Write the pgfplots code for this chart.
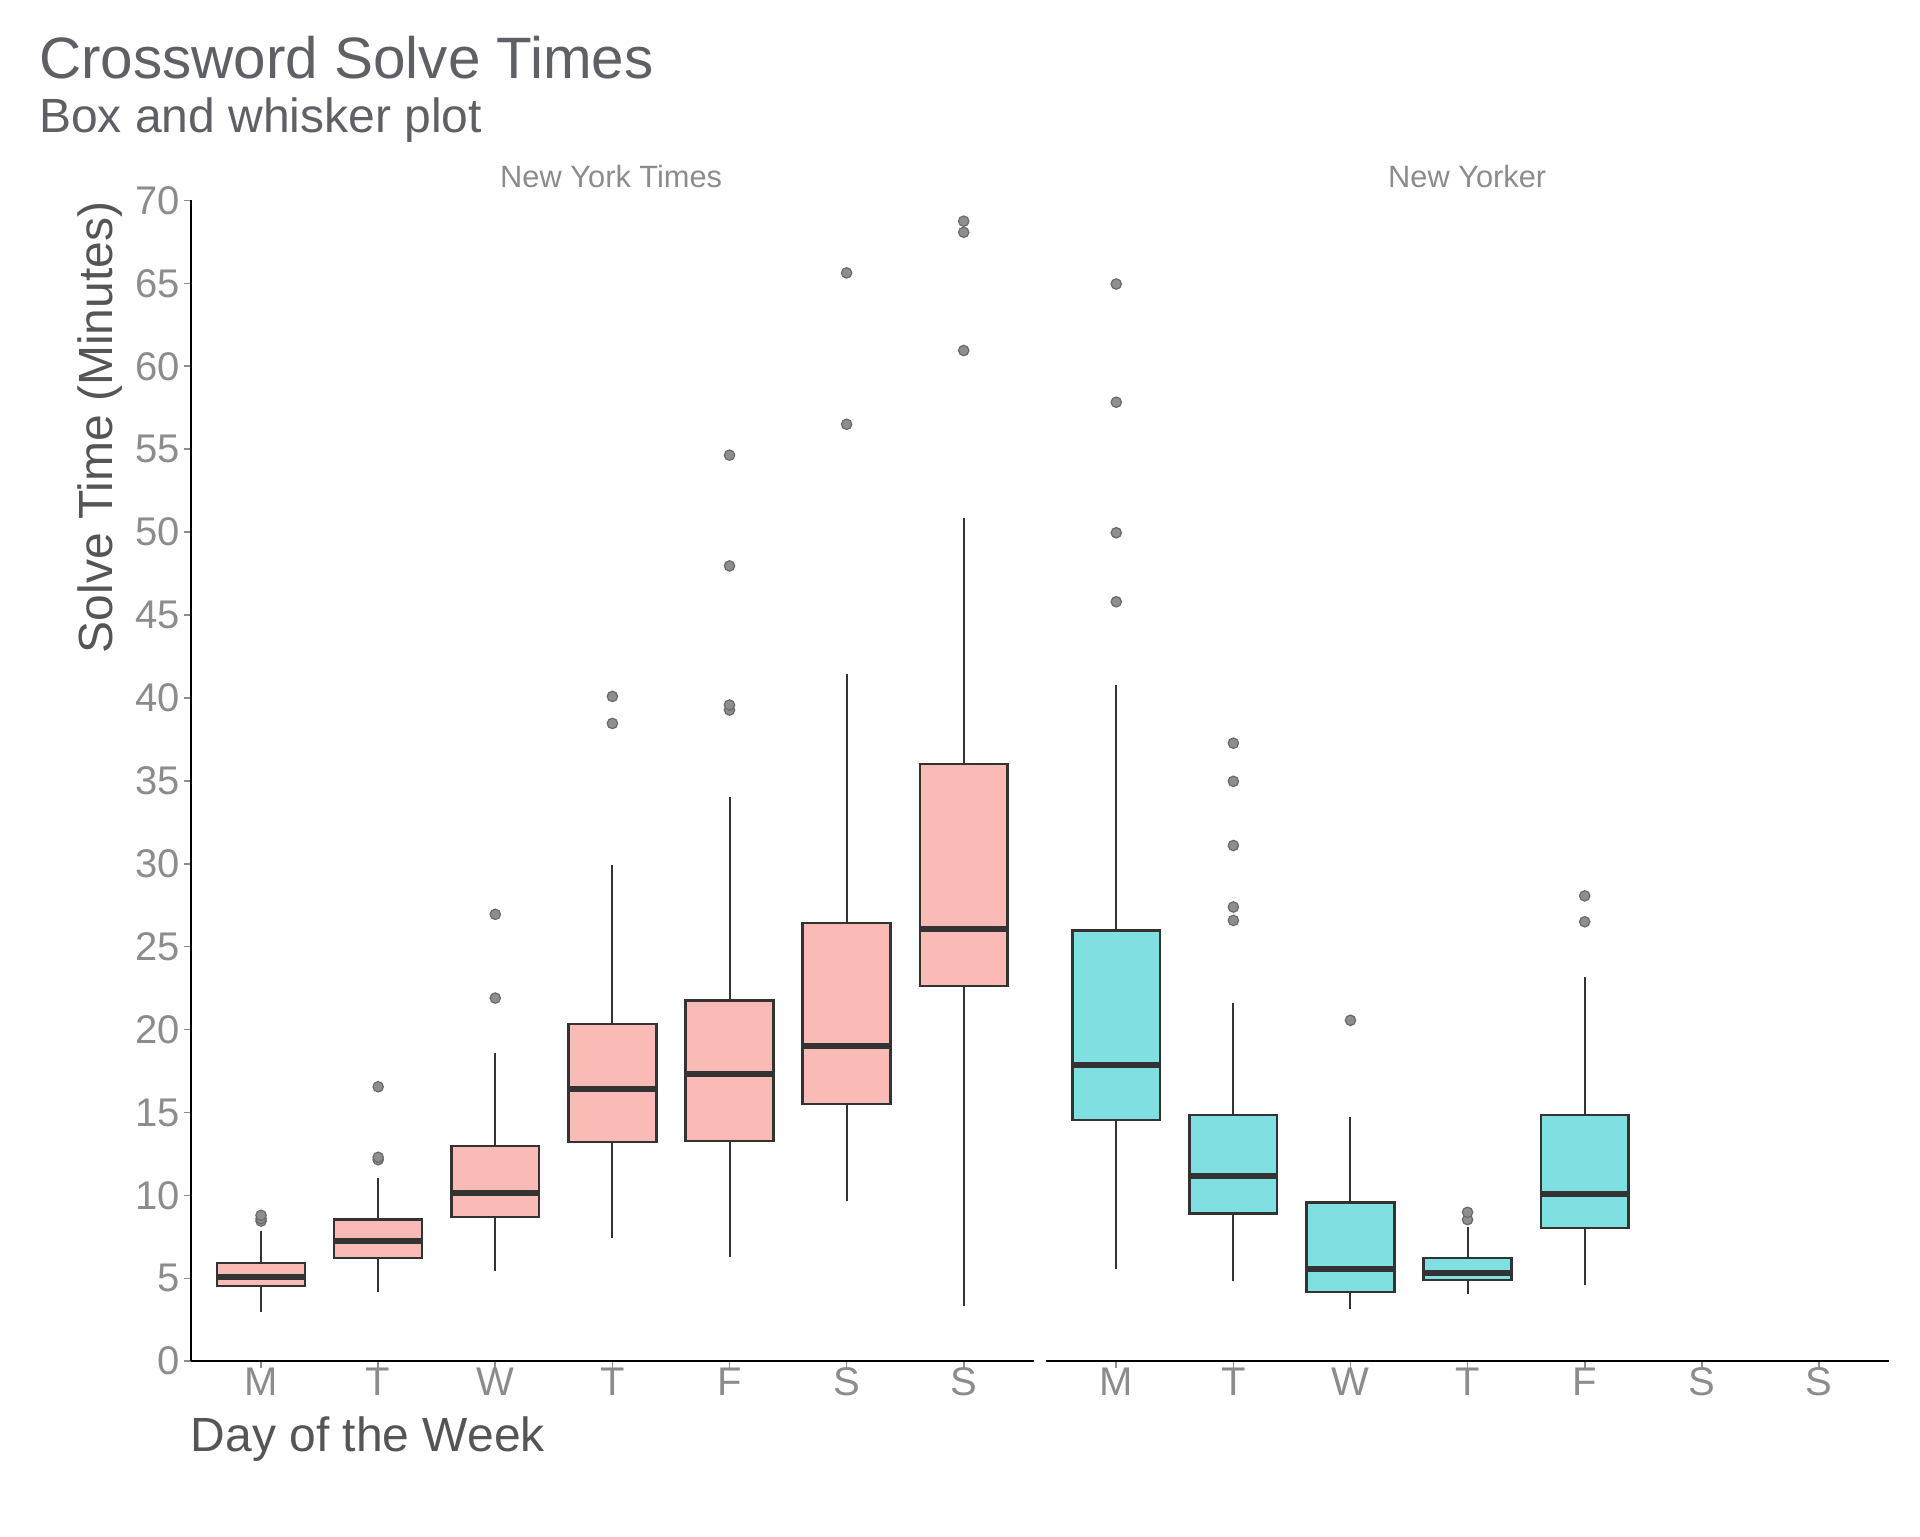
\documentclass[border=0pt]{standalone}
\usepackage{fontspec}
\setmainfont{Liberation Sans}
\usepackage{pgfplots}
\usepgfplotslibrary{statistics}
\pgfplotsset{compat=1.18}
\definecolor{titlegray}{HTML}{5F5F66}
\definecolor{labgray}{HTML}{555555}
\definecolor{tickgray}{HTML}{8C8C8C}
\definecolor{nytfill}{HTML}{FABBB6}
\definecolor{nyfill}{HTML}{80DFE1}
\definecolor{boxline}{HTML}{333333}
\definecolor{outfill}{HTML}{8E8E8E}
\definecolor{outedge}{HTML}{6A6A6A}

\pgfplotsset{
  panel/.style={
    scale only axis, width=210.8pt, height=290.2pt,
    anchor=south west,
    xmin=0.4, xmax=7.6, ymin=0, ymax=70,
    xtick={1,2,3,4,5,6,7},
    xticklabels={M,T,W,T,F,S,S},
    tick align=outside, major tick length=1.6pt,
    tick style={tickgray, line width=0.4pt},
    axis x line*=bottom,
    axis line style={black, line width=0.45pt, -},
    xtick pos=bottom,
    ticklabel style={font=\fontsize{10}{12}\selectfont, text=tickgray},
    xticklabel style={anchor=base, yshift=-7pt},
    /pgf/number format/assume math mode=true,
    boxplot/draw direction=y,
    boxplot/box extend=0.75,
    boxplot/whisker extend=0,
    boxplot/every median/.style={line width=1.5pt},
    boxplot/every whisker/.style={line width=0.5pt},
  },
  bx/.style={draw=boxline, line width=0.6pt,
    mark=*, mark size=1.3pt, mark options={fill=outfill, draw=outedge, line width=0.3pt}},
}

\begin{document}
\begin{tikzpicture}
\path[use as bounding box] (0,0) rectangle (480pt,-384pt);

\node[anchor=base west, text=titlegray, font=\fontsize{14.6}{16}\selectfont, inner sep=0pt] at (9.6pt,-19.7pt) {Crossword Solve Times};
\node[anchor=base west, text=titlegray, font=\fontsize{12}{14}\selectfont, inner sep=0pt] at (9.6pt,-33.2pt) {Box and whisker plot};
\node[anchor=base, text=tickgray, font=\fontsize{7.7}{9}\selectfont, inner sep=0pt] at (152.8pt,-46.8pt) {New York Times};
\node[anchor=base, text=tickgray, font=\fontsize{7.7}{9}\selectfont, inner sep=0pt] at (366.8pt,-46.8pt) {New Yorker};
\node[anchor=east, rotate=90, text=labgray, font=\fontsize{12}{14}\selectfont, inner sep=0pt] at (24.9pt,-50.2pt) {Solve Time (Minutes)};
\node[anchor=base west, text=labgray, font=\fontsize{12}{14}\selectfont, inner sep=0pt] at (47.5pt,-362.8pt) {Day of the Week};

% New York Times
\begin{axis}[panel, at={(47.7pt,-340.3pt)},
  axis y line*=left, ytick pos=left,
  ytick={0,5,...,70},
  yticklabel style={inner sep=0pt, xshift=-1pt}]
\addplot[bx, fill=nytfill, boxplot prepared={draw direction=y, draw position=1,
  lower whisker=2.97, lower quartile=4.53, median=5.05, upper quartile=5.94, upper whisker=7.87}]
  table[row sep=\\, y index=0] {8.45\\ 8.6\\ 8.8\\};
\addplot[bx, fill=nytfill, boxplot prepared={draw direction=y, draw position=2,
  lower whisker=4.16, lower quartile=6.24, median=7.28, upper quartile=8.54, upper whisker=11.06}]
  table[row sep=\\, y index=0] {12.15\\ 12.3\\ 16.55\\};
\addplot[bx, fill=nytfill, boxplot prepared={draw direction=y, draw position=3,
  lower whisker=5.42, lower quartile=8.69, median=10.17, upper quartile=12.99, upper whisker=18.56}]
  table[row sep=\\, y index=0] {21.9\\ 26.95\\};
\addplot[bx, fill=nytfill, boxplot prepared={draw direction=y, draw position=4,
  lower whisker=7.42, lower quartile=13.21, median=16.41, upper quartile=20.34, upper whisker=29.92}]
  table[row sep=\\, y index=0] {38.46\\ 40.09\\};
\addplot[bx, fill=nytfill, boxplot prepared={draw direction=y, draw position=5,
  lower whisker=6.31, lower quartile=13.29, median=17.3, upper quartile=21.75, upper whisker=34.0}]
  table[row sep=\\, y index=0] {39.27\\ 39.57\\ 47.96\\ 54.64\\};
\addplot[bx, fill=nytfill, boxplot prepared={draw direction=y, draw position=6,
  lower whisker=9.65, lower quartile=15.52, median=19.0, upper quartile=26.43, upper whisker=41.43}]
  table[row sep=\\, y index=0] {56.5\\ 65.63\\};
\addplot[bx, fill=nytfill, boxplot prepared={draw direction=y, draw position=7,
  lower whisker=3.34, lower quartile=22.64, median=26.06, upper quartile=36.0, upper whisker=50.85}]
  table[row sep=\\, y index=0] {60.95\\ 68.08\\ 68.75\\};
\end{axis}

% New Yorker
\begin{axis}[panel, at={(261.5pt,-340.3pt)},
  axis y line=none, ytick=\empty]
\addplot[bx, fill=nyfill, boxplot prepared={draw direction=y, draw position=1,
  lower whisker=5.57, lower quartile=14.55, median=17.89, upper quartile=25.98, upper whisker=40.76}]
  table[row sep=\\, y index=0] {45.8\\ 49.96\\ 57.83\\ 64.96\\};
\addplot[bx, fill=nyfill, boxplot prepared={draw direction=y, draw position=2,
  lower whisker=4.83, lower quartile=8.9, median=11.2, upper quartile=14.85, upper whisker=21.6}]
  table[row sep=\\, y index=0] {26.58\\ 27.39\\ 31.1\\ 34.97\\ 37.27\\};
\addplot[bx, fill=nyfill, boxplot prepared={draw direction=y, draw position=3,
  lower whisker=3.12, lower quartile=4.16, median=5.57, upper quartile=9.58, upper whisker=14.7}]
  table[row sep=\\, y index=0] {20.56\\};
\addplot[bx, fill=nyfill, boxplot prepared={draw direction=y, draw position=4,
  lower whisker=4.08, lower quartile=4.9, median=5.35, upper quartile=6.24, upper whisker=8.09}]
  table[row sep=\\, y index=0] {8.54\\ 8.98\\};
\addplot[bx, fill=nyfill, boxplot prepared={draw direction=y, draw position=5,
  lower whisker=4.6, lower quartile=8.02, median=10.1, upper quartile=14.85, upper whisker=23.16}]
  table[row sep=\\, y index=0] {26.5\\ 28.06\\};
\end{axis}
\end{tikzpicture}
\end{document}
